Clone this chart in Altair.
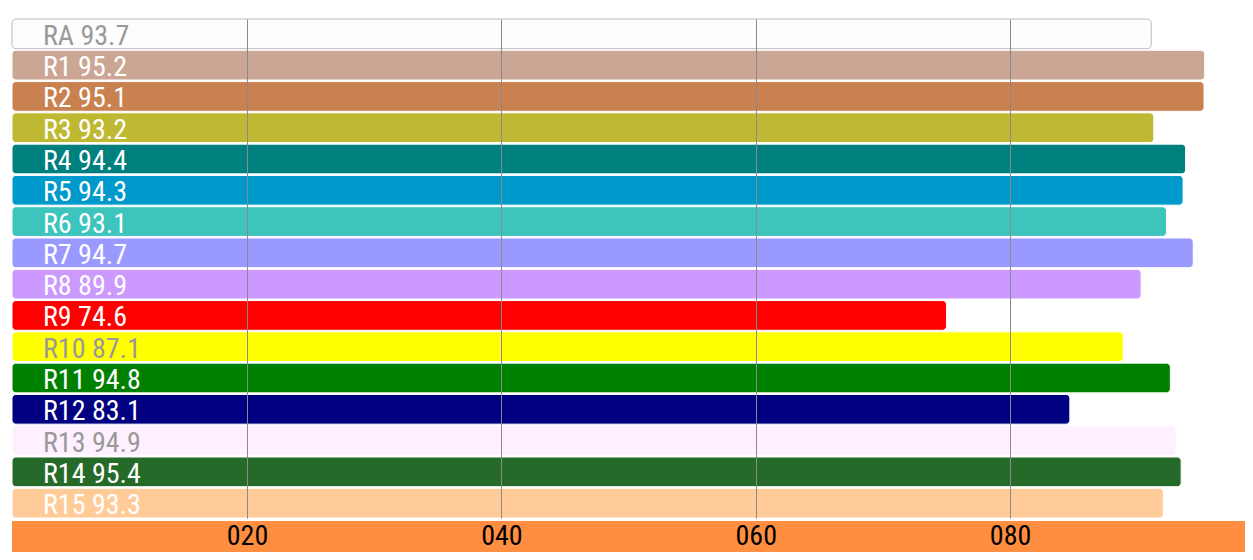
import altair as alt
import pandas as pd

names = ["RA", "R1", "R2", "R3", "R4", "R5", "R6", "R7", "R8", "R9", "R10", "R11", "R12", "R13", "R14", "R15"]
bar_values = [91.1, 95.3, 95.25, 91.3, 93.8, 93.6, 92.3, 94.4, 90.3, 75.0, 88.9, 92.6, 84.7, 93.05, 93.45, 92.05]
label_values = [93.7, 95.2, 95.1, 93.2, 94.4, 94.3, 93.1, 94.7, 89.9, 74.6, 87.1, 94.8, 83.1, 94.9, 95.4, 93.3]
bar_colors = ["#fdfdfd", "#cca694", "#c98150", "#bfb832", "#007f7f", "#0099cc", "#3cc4bd", "#9999ff",
              "#cc99ff", "#ff0000", "#ffff00", "#008000", "#000080", "#fff0ff", "#266a2a", "#ffcc99"]
bar_strokes = ["#bbbbbb"] + ["#ffffff"] * 15
label_colors = ["#999999", "white", "white", "white", "white", "white", "white", "white",
                "white", "white", "#999999", "white", "white", "#999999", "white", "white"]
tick_values = [20, 40, 60, 80]

df = pd.DataFrame({
    "name": names,
    "val": bar_values,
    "label": [f"{n} {v}" for n, v in zip(names, label_values)],
    "fillc": bar_colors,
    "strokec": bar_strokes,
    "lcolor": label_colors,
})

W, H = 1233, 499
XMIN, XMAX = 1.52, 98.47
FONT = "Roboto Condensed, Liberation Sans Narrow, Arial Narrow, DejaVu Sans Condensed, sans-serif"

y_enc = alt.Y("name:N", sort=None, axis=None,
              scale=alt.Scale(paddingInner=0.05, paddingOuter=0))
x_scale = alt.Scale(domain=[XMIN, XMAX], zero=False, nice=False)

base = alt.Chart(df)

band = base.mark_rect(color="#ff8e40").encode(
    x=alt.value(0), x2=alt.value(W + 20),
    y=alt.value(502.5), y2=alt.value(560),
)

bars = base.mark_bar(cornerRadiusEnd=4, strokeWidth=1).encode(
    x=alt.X("val:Q", scale=x_scale,
            axis=alt.Axis(values=tick_values, labelExpr="format(datum.value, '03d')",
                          grid=True, gridColor="#8a8a8a", gridWidth=1, domain=False, ticks=False,
                          tickSize=0, labelFontSize=28, labelFont=FONT, labelColor="black",
                          labelBaseline="alphabetic", labelPadding=26, title=None, zindex=1)),
    x2=alt.datum(XMIN),
    y=y_enc,
    fill=alt.Fill("fillc:N", scale=None),
    stroke=alt.Stroke("strokec:N", scale=None),
)

text = base.mark_text(align="left", baseline="middle", fontSize=28, font=FONT, dy=3).encode(
    x=alt.value(31),
    y=y_enc,
    text="label:N",
    color=alt.Color("lcolor:N", scale=None),
)

chart = alt.layer(band, bars, text).properties(
    width=W, height=H,
    autosize=alt.AutoSizeParams(type="none"),
    padding={"left": 4, "top": 11, "right": 0, "bottom": 34},
).configure_view(stroke=None)

chart.save("out.html", embed_options={"renderer": "svg", "actions": False})
